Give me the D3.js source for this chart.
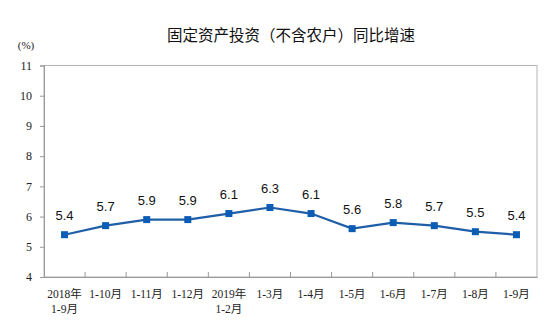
<!DOCTYPE html>
<html><head><meta charset="utf-8">
<script src="https://cdn.jsdelivr.net/npm/d3@7"></script>
<style>html,body{margin:0;padding:0;background:#fff;}</style>
</head><body>
<svg id="c" width="555" height="331"></svg>
<script>
const categories = [["2018年","1-9月"],["1-10月"],["1-11月"],["1-12月"],["2019年","1-2月"],["1-3月"],["1-4月"],["1-5月"],["1-6月"],["1-7月"],["1-8月"],["1-9月"]];
const values = [5.4,5.7,5.9,5.9,6.1,6.3,6.1,5.6,5.8,5.7,5.5,5.4];
const yTicks = [4,5,6,7,8,9,10,11];
const title = "固定资产投资（不含农户）同比增速";
const unit = "(%)";

const svg = d3.select("#c");
const m = {l:44, r:537, t:65.5, b:277};
const x = d3.scaleBand().domain(d3.range(categories.length)).range([m.l, m.r]);
const y = d3.scaleLinear().domain([4,11]).range([m.b, m.t]);
const serif = "'Liberation Serif','DejaVu Serif',serif";
const cjk = "'Noto Sans CJK SC',sans-serif";

svg.append("text").attr("x",291).attr("y",34).attr("text-anchor","middle").attr("dominant-baseline","central")
  .attr("font-family",cjk).attr("font-size",15.5).attr("fill","#111").text(title);
svg.append("text").attr("x",26).attr("y",45).attr("text-anchor","middle").attr("dominant-baseline","central")
  .attr("font-family",serif).attr("font-size",11).attr("fill","#222").text(unit);

// frame
svg.append("rect").attr("x",m.l).attr("y",m.t).attr("width",m.r-m.l).attr("height",m.b-m.t)
  .attr("fill","none").attr("stroke","#b4b4b4").attr("stroke-width",1);

// y axis
const ya = svg.append("g").attr("transform",`translate(${m.l},0)`)
  .call(d3.axisLeft(y).tickValues(yTicks).tickSize(4).tickFormat(d3.format("d")));
ya.select(".domain").attr("stroke","#999");
ya.selectAll(".tick line").attr("stroke","#999");
ya.selectAll(".tick text").attr("font-family",serif).attr("font-size",12).attr("fill","#222").attr("x",-12);

// x axis
const xa = svg.append("g").attr("transform",`translate(0,${m.b})`)
  .call(d3.axisBottom(x).tickSize(0).tickFormat(""));
xa.select(".domain").attr("stroke","#999");
xa.selectAll(".bnd").data(d3.range(1,categories.length)).enter().append("line")
  .attr("x1",i=>x(i)).attr("x2",i=>x(i)).attr("y1",0).attr("y2",-5).attr("stroke","#999");
categories.forEach((lines,i)=>{
  const t = svg.append("text").attr("text-anchor","middle").attr("font-family",serif+",'Noto Sans CJK SC'")
    .attr("font-size",11.5).attr("fill","#222");
  lines.forEach((s,j)=>{
    t.append("tspan").attr("x",x(i)+x.bandwidth()/2).attr("y",298+j*14.5).text(s);
  });
});

// line
const cx = i=>x(i)+x.bandwidth()/2;
svg.append("path").datum(values).attr("fill","none").attr("stroke","#1f5ea8").attr("stroke-width",2.2)
  .attr("d",d3.line().x((d,i)=>cx(i)).y(d=>y(d)));
svg.selectAll(".mk").data(values).enter().append("rect")
  .attr("x",(d,i)=>cx(i)-3.5).attr("y",d=>y(d)-3.5).attr("width",7).attr("height",7).attr("fill","#0b5cb5");
svg.selectAll(".lb").data(values).enter().append("text")
  .attr("x",(d,i)=>cx(i)).attr("y",d=>y(d)-19).attr("text-anchor","middle").attr("dominant-baseline","central")
  .attr("font-family","'Liberation Sans',Arial,sans-serif").attr("font-size",13).attr("fill","#111")
  .text(d=>d3.format(".1f")(d));
</script>
</body></html>
